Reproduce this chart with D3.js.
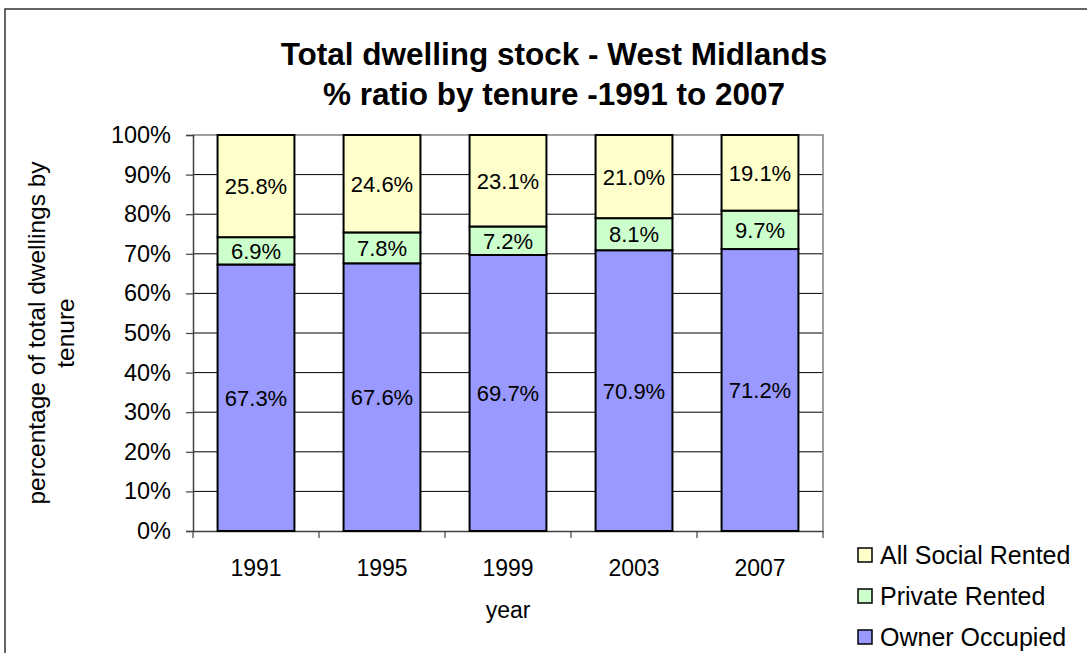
<!DOCTYPE html>
<html lang="en">
  <head>
    <meta charset="utf-8">
    <title>Total dwelling stock - West Midlands</title>
    <script src="https://d3js.org/d3.v7.min.js"></script>
    <style>
      body { margin: 0; background: #fff; }
      text { font-family: Arial, "Liberation Sans", sans-serif; fill: #000; }
    </style>
  </head>
  <body>
    <script type="text/javascript">
    // chart data
    var years = ["1991", "1995", "1999", "2003", "2007"];
    var ownerOccupied = [67.3, 67.6, 69.7, 70.9, 71.2];
    var privateRented = [6.9, 7.8, 7.2, 8.1, 9.7];
    var socialRented = [25.8, 24.6, 23.1, 21.0, 19.1];
    var seriesNames = ["Owner Occupied", "Private Rented", "All Social Rented"];
    var seriesColors = ["#9999ff", "#ccffcc", "#ffffcc"];
    var yTicks = [0, 10, 20, 30, 40, 50, 60, 70, 80, 90, 100];

    var w = 1087;
    var h = 653;
    // plot area edges (don't call them top/left: window.top is read only)
    var pL = 193, pR = 823, pT = 135, pB = 531;

    var rows = years.map(function(y, i) {
      return { year: y, "Owner Occupied": ownerOccupied[i],
               "Private Rented": privateRented[i], "All Social Rented": socialRented[i] };
    });
    var stacked = d3.stack().keys(seriesNames)(rows);

    var xScale = d3.scaleBand()
                   .domain(years)
                   .range([pL, pR])
                   .paddingInner(0.39)
                   .paddingOuter(0.195);

    var yScale = d3.scaleLinear()
                   .domain([0, 100])
                   .range([pB, pT]);

    var svg = d3.select("body")
                .append("svg")
                .attr("width", w)
                .attr("height", h);

    // outer chart border
    svg.append("rect")
       .attr("x", 5).attr("y", 9)
       .attr("width", 1100).attr("height", 700)
       .attr("fill", "none")
       .attr("stroke", "#333")
       .attr("stroke-width", 1.5);

    // gridlines
    svg.selectAll("line.grid")
       .data(yTicks.filter(function(d) { return d > 0 && d < 100; }))
       .enter()
       .append("line")
       .attr("class", "grid")
       .attr("x1", pL).attr("x2", pR)
       .attr("y1", function(d) { return yScale(d); })
       .attr("y2", function(d) { return yScale(d); })
       .attr("stroke", "#000")
       .attr("stroke-width", 1);

    // plot area frame (top + right in gray)
    svg.append("path")
       .attr("d", "M" + pL + "," + pT + "H" + pR + "V" + pB)
       .attr("fill", "none")
       .attr("stroke", "#808080")
       .attr("stroke-width", 1.5);

    // y axis
    var yAxis = d3.axisLeft(yScale)
                  .tickValues(yTicks)
                  .tickSize(7)
                  .tickPadding(15)
                  .tickFormat(function(d) { return d + "%"; });
    var gy = svg.append("g")
       .attr("transform", "translate(" + pL + ",0)")
       .call(yAxis);
    gy.select(".domain").attr("stroke", "#404040").attr("stroke-width", 1.5);
    gy.selectAll(".tick line").attr("stroke", "#404040").attr("stroke-width", 1.2);
    gy.selectAll(".tick text")
      .style("font-size", "23.5px")
      .attr("font-family", null);

    // x axis
    var xAxis = d3.axisBottom(xScale).tickSize(0).tickPadding(29);
    var gx = svg.append("g")
       .attr("transform", "translate(0," + pB + ")")
       .call(xAxis);
    gx.select(".domain").attr("stroke", "#404040").attr("stroke-width", 1.5);
    gx.selectAll(".tick text")
      .style("font-size", "23px")
      .attr("font-family", null);

    // category boundary tick marks
    var step = xScale.step();
    svg.selectAll("line.xtick")
       .data(d3.range(years.length + 1))
       .enter()
       .append("line")
       .attr("class", "xtick")
       .attr("x1", function(d) { return pL + d * step; })
       .attr("x2", function(d) { return pL + d * step; })
       .attr("y1", pB).attr("y2", pB + 7)
       .attr("stroke", "#404040")
       .attr("stroke-width", 1.2);

    // bars
    var layers = svg.selectAll("g.layer")
       .data(stacked)
       .enter()
       .append("g")
       .attr("class", "layer")
       .attr("fill", function(d, i) { return seriesColors[i]; });

    layers.selectAll("rect")
       .data(function(d) { return d; })
       .enter()
       .append("rect")
       .attr("x", function(d) { return xScale(d.data.year); })
       .attr("y", function(d) { return yScale(d[1]); })
       .attr("width", xScale.bandwidth())
       .attr("height", function(d) { return yScale(d[0]) - yScale(d[1]); })
       .attr("stroke", "#000")
       .attr("stroke-width", 2);

    layers.selectAll("text")
       .data(function(d) { return d; })
       .enter()
       .append("text")
       .text(function(d) { return (d[1] - d[0]).toFixed(1) + "%"; })
       .attr("x", function(d) { return xScale(d.data.year) + xScale.bandwidth() / 2; })
       .attr("y", function(d) { return yScale((d[0] + d[1]) / 2); })
       .attr("dy", "0.36em")
       .attr("text-anchor", "middle")
       .style("font-size", "22px");

    // title
    var title = svg.append("text")
       .attr("text-anchor", "middle")
       .style("font-size", "31.5px")
       .style("font-weight", "bold");
    title.append("tspan").attr("x", 554).attr("y", 65).text("Total dwelling stock - West Midlands");
    title.append("tspan").attr("x", 554).attr("y", 105).text("% ratio by tenure -1991 to 2007");

    // axis titles
    var ylab = svg.append("text")
       .attr("transform", "translate(0," + ((pT + pB) / 2) + ") rotate(-90)")
       .attr("text-anchor", "middle")
       .style("font-size", "24.5px");
    ylab.append("tspan").attr("x", 0).attr("y", 45).text("percentage of total dwellings by");
    ylab.append("tspan").attr("x", 0).attr("y", 74).text("tenure");

    svg.append("text")
       .attr("x", (pL + pR) / 2)
       .attr("y", 618)
       .attr("text-anchor", "middle")
       .style("font-size", "23px")
       .text("year");

    // legend (reverse order, social on top)
    var legend = svg.selectAll("g.legend")
       .data(seriesNames.slice().reverse())
       .enter()
       .append("g")
       .attr("class", "legend")
       .attr("transform", function(d, i) { return "translate(858," + (555 + i * 41) + ")"; });

    legend.append("rect")
       .attr("x", 0).attr("y", -7)
       .attr("width", 14).attr("height", 14)
       .attr("fill", function(d) { return seriesColors[seriesNames.indexOf(d)]; })
       .attr("stroke", "#000")
       .attr("stroke-width", 1.5);

    legend.append("text")
       .attr("x", 22)
       .attr("dy", "0.36em")
       .style("font-size", "25px")
       .text(function(d) { return d; });
    </script>
  </body>
</html>
